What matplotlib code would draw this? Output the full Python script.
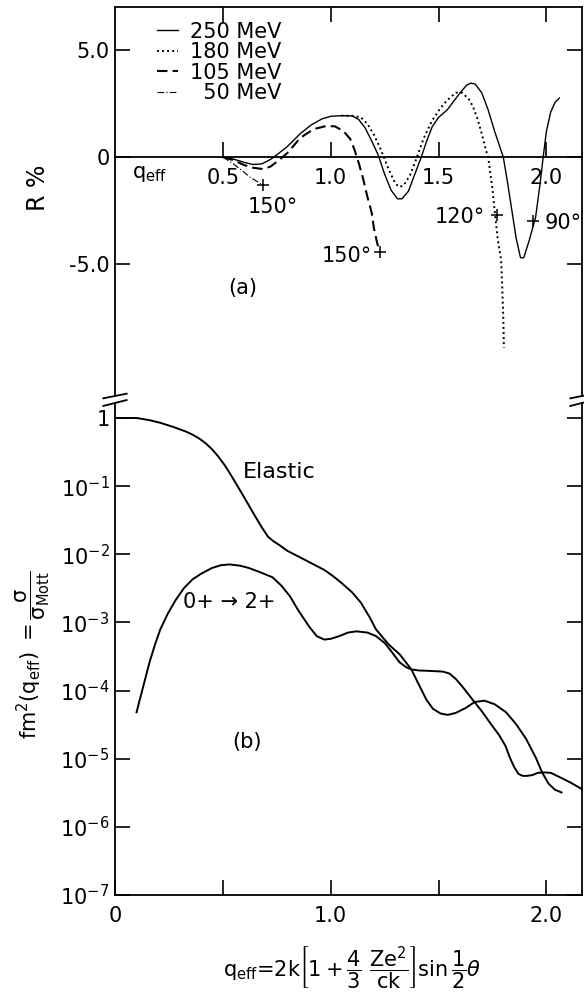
import matplotlib.pyplot as plt
from matplotlib.ticker import NullLocator

plt.rcParams['font.family'] = ['DejaVu Sans']
plt.rcParams['mathtext.fontset'] = 'dejavusans'
plt.rcParams['mathtext.default'] = 'regular'

# -------------------- (a) asymmetry R % vs q_eff --------------------
q_250 = [0.50, 0.55, 0.60, 0.64, 0.68, 0.72, 0.75, 0.80, 0.86, 0.91, 0.96, 1.00,
         1.05, 1.10, 1.13, 1.16, 1.19, 1.22, 1.25, 1.28, 1.31, 1.33, 1.36, 1.39,
         1.42, 1.445, 1.47, 1.50, 1.54, 1.57, 1.60, 1.63, 1.65, 1.67, 1.70, 1.73,
         1.76, 1.80, 1.82, 1.84, 1.86, 1.88, 1.895, 1.92, 1.95, 1.97, 1.985, 2.00,
         2.02, 2.04, 2.06]
r_250 = [0.0, -0.1, -0.25, -0.35, -0.32, -0.12, 0.1, 0.5, 1.1, 1.5, 1.78, 1.9,
         1.93, 1.92, 1.75, 1.35, 0.75, 0.1, -0.8, -1.55, -1.95, -1.95, -1.6, -0.8,
         0.0, 0.75, 1.4, 1.85, 2.2, 2.6, 3.0, 3.35, 3.45, 3.4, 3.0, 2.2,
         1.2, 0.0, -1.2, -2.5, -3.8, -4.7, -4.7, -3.9, -2.8, -1.3, 0.0, 1.2,
         2.1, 2.55, 2.75]

q_180 = [1.05, 1.10, 1.14, 1.17, 1.20, 1.23, 1.25, 1.27, 1.30, 1.32, 1.34, 1.37,
         1.40, 1.43, 1.47, 1.51, 1.54, 1.58, 1.61, 1.64, 1.66, 1.68, 1.70, 1.72,
         1.73, 1.75, 1.76, 1.775, 1.79, 1.795, 1.80, 1.803]
r_180 = [1.93, 1.92, 1.85, 1.55, 1.05, 0.4, -0.1, -0.6, -1.25, -1.4, -1.3, -0.8,
         0.0, 0.85, 1.7, 2.3, 2.65, 3.0, 3.0, 2.7, 2.35, 1.8, 1.1, 0.3,
         0.0, -1.5, -2.5, -3.9, -4.8, -6.0, -7.5, -8.9]

q_105 = [0.50, 0.55, 0.60, 0.64, 0.685, 0.72, 0.76, 0.80, 0.86, 0.92, 0.98, 1.02,
         1.06, 1.09, 1.11, 1.13, 1.15, 1.17, 1.19, 1.20, 1.215, 1.227]
r_105 = [0.0, -0.15, -0.38, -0.5, -0.56, -0.45, -0.15, 0.2, 0.9, 1.3, 1.45, 1.43,
         1.2, 0.85, 0.35, -0.28, -1.0, -1.85, -2.6, -3.3, -4.0, -4.45]

q_50 = [0.50, 0.546, 0.585, 0.625, 0.66, 0.685]
r_50 = [0.0, -0.3, -0.6, -0.93, -1.15, -1.32]

# scattering angle marks on the curves and their labels
angle_q = [0.685, 1.227, 1.77, 1.94]
angle_r = [-1.32, -4.45, -2.7, -3.0]
angle_text = ['150°', '150°', '120°', '90°']
angle_text_q = [0.73, 1.075, 1.60, 2.08]
angle_text_r = [-2.35, -4.6, -2.8, -3.1]

# -------------------- (b) form factors --------------------
q_el = [0.0, 0.10, 0.16, 0.21, 0.27, 0.33, 0.36, 0.39, 0.42, 0.45, 0.48, 0.51,
        0.54, 0.57, 0.60, 0.64, 0.68, 0.71, 0.735, 0.76, 0.80, 0.85, 0.91, 0.97,
        1.01, 1.05, 1.10, 1.14, 1.18, 1.21, 1.27, 1.32, 1.374, 1.41, 1.443, 1.474,
        1.51, 1.543, 1.58, 1.628, 1.667, 1.713, 1.76, 1.813, 1.86, 1.906, 1.95, 1.98,
        2.01, 2.04, 2.07]
f_el = [1.0, 1.0, 0.93, 0.85, 0.74, 0.63, 0.569, 0.501, 0.427, 0.347, 0.269, 0.20,
        0.141, 0.0977, 0.0676, 0.0407, 0.025, 0.018, 0.0155, 0.0138, 0.0112, 0.0093, 0.0074, 0.0059,
        0.0048, 0.0038, 0.00275, 0.00195, 0.0012, 7.9e-4, 4.7e-4, 3.4e-4, 2.04e-4, 1.2e-4, 7.4e-5, 5.4e-5,
        4.6e-5, 4.4e-5, 4.7e-5, 5.6e-5, 6.8e-5, 7.1e-5, 6.3e-5, 4.8e-5, 3.2e-5, 1.95e-5, 1.05e-5, 6.3e-6,
        4.3e-6, 3.5e-6, 3.2e-6]

q_in = [0.10, 0.115, 0.13, 0.16, 0.185, 0.21, 0.245, 0.28, 0.32, 0.36, 0.40, 0.45,
        0.49, 0.53, 0.58, 0.62, 0.67, 0.73, 0.77, 0.81, 0.85, 0.90, 0.935, 0.97,
        1.00, 1.04, 1.08, 1.12, 1.17, 1.21, 1.25, 1.28, 1.319, 1.35, 1.374, 1.41,
        1.45, 1.52, 1.55, 1.58, 1.61, 1.657, 1.70, 1.75, 1.78, 1.81, 1.83, 1.85,
        1.87, 1.89, 1.91, 1.935, 1.96, 1.99, 2.02, 2.06, 2.11, 2.17]
f_in = [4.8e-5, 7.4e-5, 1.12e-4, 2.6e-4, 4.7e-4, 7.9e-4, 1.35e-3, 2.1e-3, 3.2e-3, 4.3e-3, 5.2e-3, 6.3e-3,
        6.9e-3, 7.1e-3, 6.8e-3, 6.3e-3, 5.5e-3, 4.6e-3, 3.5e-3, 2.45e-3, 1.5e-3, 8.7e-4, 6.3e-4, 5.6e-4,
        5.75e-4, 6.3e-4, 7.1e-4, 7.4e-4, 7.1e-4, 6.3e-4, 5.0e-4, 3.8e-4, 2.6e-4, 2.2e-4, 2.04e-4, 1.97e-4,
        1.95e-4, 1.9e-4, 1.78e-4, 1.48e-4, 1.15e-4, 7.4e-5, 5.0e-5, 3.0e-5, 2.24e-5, 1.55e-5, 1.05e-5, 7.6e-6,
        6.0e-6, 5.6e-6, 5.6e-6, 5.75e-6, 6.2e-6, 6.3e-6, 6.2e-6, 5.4e-6, 4.5e-6, 3.5e-6]

a_yticks = [5.0, 0.0, -5.0]
a_yticklabels = ['5.0', '0', '-5.0']
q_ticks = [0.5, 1.0, 1.5, 2.0]
b_xticks = [0.0, 0.5, 1.0, 1.5, 2.0]
b_xticklabels = ['0', '', '1.0', '', '2.0']
b_yticks = [1.0, 1e-1, 1e-2, 1e-3, 1e-4, 1e-5, 1e-6, 1e-7]
b_yticklabels = ['1', '$10^{-1}$', '$10^{-2}$', '$10^{-3}$', '$10^{-4}$',
                 '$10^{-5}$', '$10^{-6}$', '$10^{-7}$']

W, H = 584, 996
fig = plt.figure(figsize=(W / 100, H / 100), dpi=100)
left, right = 115 / W, 582 / W
ax1 = fig.add_axes([left, 1 - 396 / H, right - left, (396 - 7) / H])
ax2 = fig.add_axes([left, 1 - 895 / H, right - left, (895 - 403) / H])

FS = 15
lw_axis = 1.3

# ---- panel (a) ----
l250, = ax1.plot(q_250, r_250, color='black', lw=1.0, ls='-')
l180, = ax1.plot(q_180, r_180, color='black', lw=1.4, ls=(0, (1, 1.6)))
l105, = ax1.plot(q_105, r_105, color='black', lw=1.5, ls=(0, (5, 2.5)))
l50, = ax1.plot(q_50, r_50, color='black', lw=0.8, ls=(0, (6, 2, 1, 2)))
ax1.plot(angle_q, angle_r, ls='none', marker='+', ms=9, mew=1.1, color='black')
for tq, tr, t in zip(angle_text_q, angle_text_r, angle_text):
    ax1.text(tq, tr, t, fontsize=FS, ha='center', va='center')

ax1.set_xlim(0, 2.165)
ax1.set_ylim(-11.15, 7.0)
ax1.spines['bottom'].set_position(('data', 0))
for s in ax1.spines.values():
    s.set_linewidth(lw_axis)
ax1.set_yticks(a_yticks)
ax1.set_yticklabels(a_yticklabels)
ax1.set_xticks(q_ticks)
ax1.set_xticklabels([f'{v:.1f}' for v in q_ticks])
ax1.tick_params(axis='both', direction='in', length=11, width=1.2, labelsize=FS)
ax1.tick_params(axis='x', top=True, pad=8)
ax1.tick_params(axis='y', right=True, pad=4)
ax1.text(0.16, -0.8, '$q_{eff}$', fontsize=FS, ha='center', va='center')
ax1.text(0.59, -6.1, '(a)', fontsize=FS, ha='center', va='center')

leg = ax1.legend([l250, l180, l105, l50],
                 ['250 MeV', '180 MeV', '105 MeV', '\u200750 MeV'],
                 loc='upper left', bbox_to_anchor=(0.09, 0.962), frameon=False,
                 fontsize=FS, handlelength=1.0, handletextpad=0.6,
                 labelspacing=0.02, borderpad=0, borderaxespad=0)

# ---- panel (b) ----
ax2.plot(q_el, f_el, color='black', lw=1.4)
ax2.plot(q_in, f_in, color='black', lw=1.4)
ax2.set_yscale('log')
ax2.set_xlim(0, 2.165)
ax2.set_ylim(1e-7, 1.66)
ax2.spines['top'].set_visible(False)
for s in ax2.spines.values():
    s.set_linewidth(lw_axis)
ax2.set_yticks(b_yticks)
ax2.set_yticklabels(b_yticklabels)
ax2.yaxis.set_minor_locator(NullLocator())
ax2.set_xticks(b_xticks)
ax2.set_xticklabels(b_xticklabels)
ax2.tick_params(axis='both', direction='in', length=11, width=1.2, labelsize=FS)
ax2.tick_params(axis='x', pad=8)
ax2.tick_params(axis='y', right=True, pad=4)
ax2.text(0.76, 0.162, 'Elastic', fontsize=FS + 1, ha='center', va='center')
ax2.text(0.53, 2.0e-3, '0+ \u2192 2+', fontsize=FS, ha='center', va='center')
ax2.text(0.61, 1.74e-5, '(b)', fontsize=FS, ha='center', va='center')

# broken axis marks on both sides
for x in (0, 1):
    ax1.plot([x - 0.025, x + 0.025], [-0.006, 0.006], transform=ax1.transAxes,
             color='black', lw=1.3, clip_on=False)
    ax2.plot([x - 0.025, x + 0.025], [0.994, 1.006], transform=ax2.transAxes,
             color='black', lw=1.3, clip_on=False)

fig.text(38 / W, 1 - 188 / H, 'R %', rotation=90, fontsize=17, ha='center', va='center')
fig.text(33 / W, 1 - 655 / H,
         r'fm$^2$(q$_{eff}$) $=\dfrac{\sigma}{\sigma_{Mott}}$',
         rotation=90, fontsize=FS, ha='center', va='center')
fig.text(352 / W, 1 - 968 / H,
         r'q$_{eff}$=2k$\left[1+\dfrac{4}{3}\ \dfrac{Ze^2}{ck}\right]$sin$\,\dfrac{1}{2}\mathit{\theta}$',
         fontsize=FS, ha='center', va='center')

fig.savefig('out.png', dpi=100)
